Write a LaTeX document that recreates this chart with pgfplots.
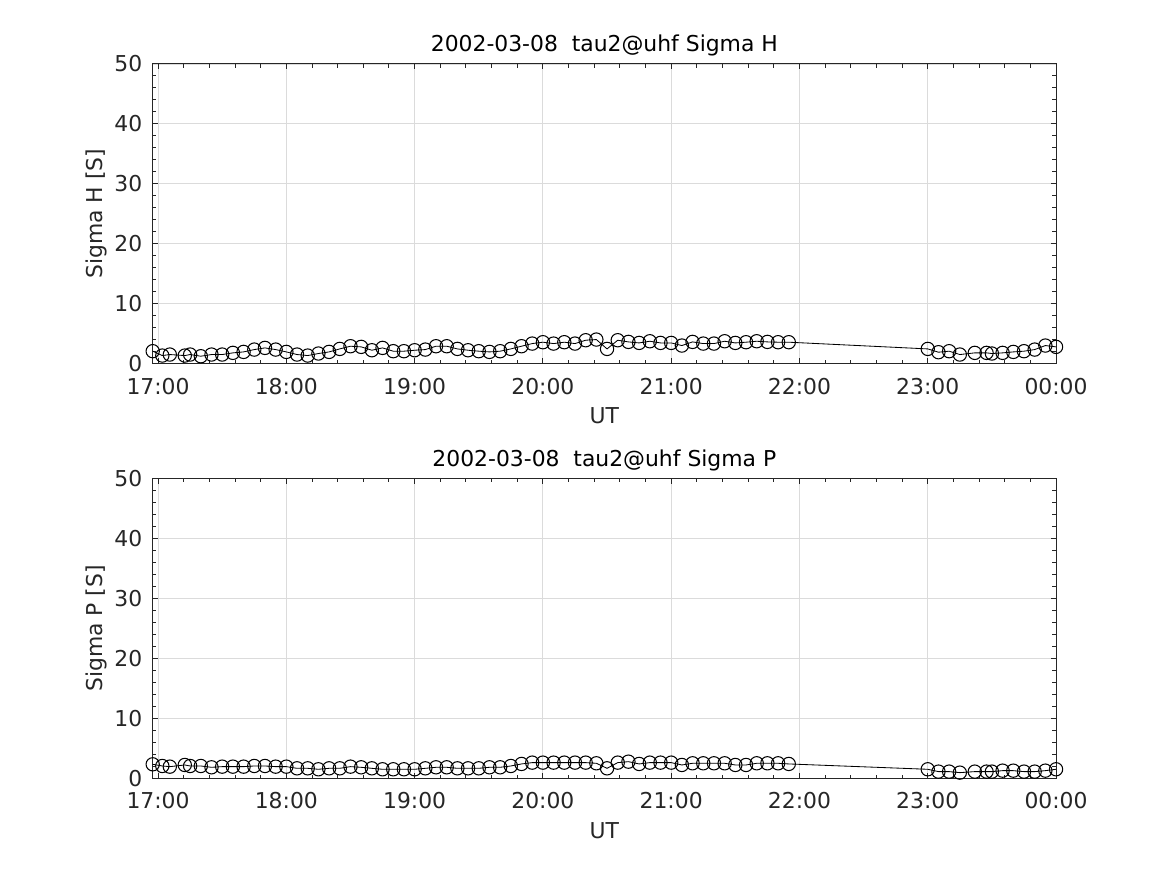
\documentclass[border=0pt]{standalone}
\usepackage{pgfplots}
\usepackage{pgfplotstable}
\pgfplotsset{compat=1.18}
\usepackage{fontspec}
\setmainfont{DejaVu Sans}
\definecolor{axgray}{RGB}{38,38,38}

% t = minutes after 17:00 UT
\pgfplotstableread{
t sh sp
-2.5 2.06 2.34
2 1.33 2.06
5.5 1.50 1.95
12.5 1.33 2.23
15 1.50 2.06
20 1.22 2.06
25 1.50 1.84
30 1.50 1.95
35 1.78 1.95
40 1.94 1.95
45 2.33 2.06
50 2.61 2.06
55 2.33 1.95
60 1.94 1.95
65 1.50 1.67
70 1.33 1.67
75 1.67 1.51
80 1.94 1.67
85 2.44 1.67
90 2.89 1.95
95 2.78 1.84
100 2.22 1.67
105 2.61 1.51
110 2.06 1.51
115 2.06 1.51
120 2.22 1.51
125 2.33 1.67
130 2.89 1.84
135 2.89 1.84
140 2.44 1.67
145 2.22 1.67
150 2.06 1.67
155 1.94 1.84
160 2.06 1.84
165 2.44 2.06
170 2.89 2.40
175 3.33 2.62
180 3.56 2.62
185 3.33 2.62
190 3.56 2.62
195 3.33 2.62
200 3.89 2.62
205 4.00 2.51
210 2.44 1.67
215 3.89 2.62
220 3.61 2.78
225 3.44 2.40
230 3.72 2.62
235 3.44 2.62
240 3.44 2.62
245 3.00 2.23
250 3.61 2.51
255 3.33 2.51
260 3.33 2.51
265 3.72 2.51
270 3.44 2.23
275 3.56 2.23
280 3.72 2.51
285 3.61 2.51
290 3.56 2.51
295 3.56 2.40
360 2.44 1.51
365 1.89 1.12
370 2.06 1.12
375 1.50 0.95
382 1.78 1.12
387.5 1.78 1.12
390 1.67 1.12
395 1.78 1.28
400 1.94 1.28
405 2.06 1.12
410 2.33 1.12
415 3.00 1.28
420 2.78 1.51
}\sigmadata

\pgfplotsset{
 msty/.style={
  scale only axis, width=433.6pt, height=143.8pt,
  xmin=-2.5, xmax=420, ymin=0, ymax=50,
  xtick={0,60,...,420},
  xticklabels={17:00,18:00,19:00,20:00,21:00,22:00,23:00,00:00},
  ytick={0,10,...,50},
  minor x tick num=4, minor y tick num=4,
  tick align=inside, major tick length=2.6pt, minor tick length=1.8pt,
  grid=major, grid style={black!14, line width=0.4pt},
  axis line style={axgray, line width=0.45pt},
  every tick/.style={axgray, line width=0.45pt},
  /pgf/number format/assume math mode=true,
  tick label style={font=\fontsize{10.5}{12}\selectfont, text=axgray},
  xticklabel style={anchor=north, inner sep=0pt, yshift=-6.7pt},
  yticklabel style={anchor=east, inner sep=0pt, xshift=-4.8pt},
  label style={font=\fontsize{10.5}{12}\selectfont, text=axgray},
  xlabel={UT},
  xlabel style={at={(axis description cs:0.5,-0.147)}, anchor=north, inner sep=0pt},
  ylabel style={at={(axis description cs:-0.0506,0.5)}, anchor=south, inner sep=0pt},
  title style={at={(axis description cs:0.5,1)}, anchor=base, yshift=-0.1pt, inner sep=0pt, font=\fontsize{10.5}{12}\selectfont, text=black},
 },
 dsty/.style={black, line width=0.4pt, mark=o, mark size=3.2pt, mark options={line width=0.5pt, solid}},
}

\begin{document}
\begin{tikzpicture}
\path[use as bounding box] (0,0) rectangle (560.16pt,420pt);
\begin{axis}[msty, at={(73.3pt,245.5pt)}, anchor=south west,
  title={2002-03-08\ \ tau2@uhf Sigma H}, ylabel={Sigma H [S]}]
\addplot[dsty] table[x=t, y=sh] {\sigmadata};
\end{axis}
\begin{axis}[msty, at={(73.3pt,46.4pt)}, anchor=south west,
  title={2002-03-08\ \ tau2@uhf Sigma P}, ylabel={Sigma P [S]}]
\addplot[dsty] table[x=t, y=sp] {\sigmadata};
\end{axis}
\end{tikzpicture}
\end{document}
